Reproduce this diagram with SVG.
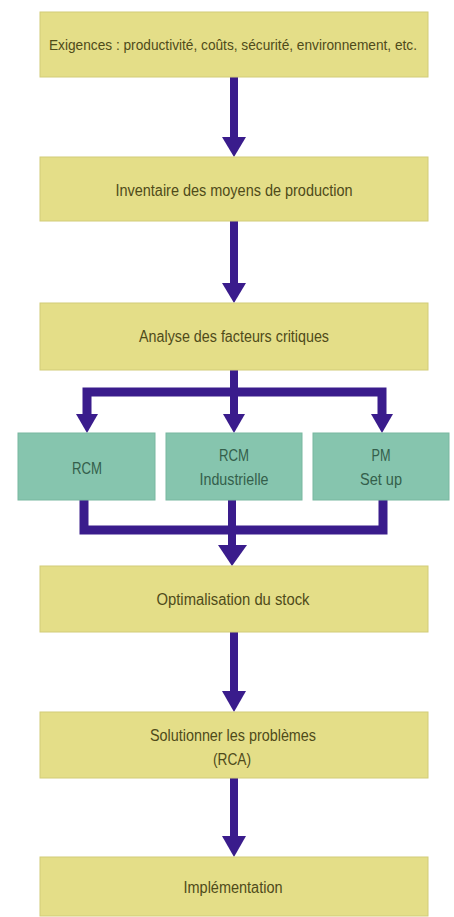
<svg xmlns="http://www.w3.org/2000/svg" width="454" height="917" viewBox="0 0 454 917">
  <defs>
    <style>
      .step { fill: #e4de88; stroke: #d2cc78; stroke-width: 1; }
      .method { fill: #86c5ae; stroke: #78b7a0; stroke-width: 1; }
      .lbl { font-family: "Liberation Sans", Arial, sans-serif; font-size: 16px; text-anchor: middle; }
      .long { font-size: 14px; }
      .step-t { fill: #4f4b1a; }
      .method-t { fill: #345f4b; }
      .flow { fill: none; stroke: #3a1c8c; stroke-width: 8; stroke-linecap: butt; stroke-linejoin: miter; }
      .bar { fill: none; stroke: #3a1c8c; stroke-width: 9; stroke-linejoin: miter; }
      .tip { fill: #3a1c8c; }
    </style>
  </defs>

  <rect width="454" height="917" fill="#ffffff"/>

  <!-- connectors -->
  <g id="connectors">
    <line class="flow" x1="234" y1="77" x2="234" y2="138"/>
    <path class="tip" d="M222,137 L246,137 L234,157 Z"/>

    <line class="flow" x1="234" y1="221" x2="234" y2="284"/>
    <path class="tip" d="M222,283 L246,283 L234,303 Z"/>

    <!-- fan-out to the three methods -->
    <line class="flow" x1="234" y1="370" x2="234" y2="392"/>
    <path class="bar" d="M87,415 V392 H382 V415"/>
    <line class="flow" x1="234" y1="392" x2="234" y2="415"/>
    <path class="tip" d="M76,414 L98,414 L87,433 Z"/>
    <path class="tip" d="M223,414 L245,414 L234,433 Z"/>
    <path class="tip" d="M371,414 L393,414 L382,433 Z"/>

    <!-- merge back into stock optimisation -->
    <path class="bar" d="M84,500 V530 H383 V500"/>
    <line class="flow" x1="232" y1="500" x2="232" y2="546"/>
    <path class="tip" d="M218,545 L247,545 L232,566 Z"/>

    <line class="flow" x1="234" y1="632" x2="234" y2="692"/>
    <path class="tip" d="M222,691 L246,691 L234,712 Z"/>

    <line class="flow" x1="234" y1="778" x2="234" y2="837"/>
    <path class="tip" d="M222,836 L246,836 L234,857 Z"/>
  </g>

  <g id="exigences">
    <rect class="step" x="40" y="12" width="388" height="65"/>
    <text class="lbl long step-t" x="233" y="50" textLength="368" lengthAdjust="spacingAndGlyphs">Exigences : productivité, coûts, sécurité, environnement, etc.</text>
  </g>

  <g id="inventaire">
    <rect class="step" x="40" y="157" width="388" height="64"/>
    <text class="lbl step-t" x="234" y="196" textLength="237" lengthAdjust="spacingAndGlyphs">Inventaire des moyens de production</text>
  </g>

  <g id="analyse">
    <rect class="step" x="40" y="303" width="388" height="67"/>
    <text class="lbl step-t" x="234" y="342" textLength="190" lengthAdjust="spacingAndGlyphs">Analyse des facteurs critiques</text>
  </g>

  <g id="rcm">
    <rect class="method" x="18" y="433" width="137" height="67"/>
    <text class="lbl method-t" x="87" y="474" textLength="30" lengthAdjust="spacingAndGlyphs">RCM</text>
  </g>

  <g id="rcm-industrielle">
    <rect class="method" x="166" y="433" width="136" height="67"/>
    <text class="lbl method-t" x="234" y="461" textLength="30" lengthAdjust="spacingAndGlyphs">RCM</text>
    <text class="lbl method-t" x="234" y="485" textLength="69" lengthAdjust="spacingAndGlyphs">Industrielle</text>
  </g>

  <g id="pm-setup">
    <rect class="method" x="313" y="433" width="136" height="67"/>
    <text class="lbl method-t" x="381" y="461" textLength="19" lengthAdjust="spacingAndGlyphs">PM</text>
    <text class="lbl method-t" x="381" y="485" textLength="42" lengthAdjust="spacingAndGlyphs">Set up</text>
  </g>

  <g id="optimalisation">
    <rect class="step" x="40" y="566" width="388" height="66"/>
    <text class="lbl step-t" x="233" y="605" textLength="153" lengthAdjust="spacingAndGlyphs">Optimalisation du stock</text>
  </g>

  <g id="solutionner">
    <rect class="step" x="40" y="712" width="388" height="66"/>
    <text class="lbl step-t" x="233" y="741" textLength="166" lengthAdjust="spacingAndGlyphs">Solutionner les problèmes</text>
    <text class="lbl step-t" x="232" y="765" textLength="38" lengthAdjust="spacingAndGlyphs">(RCA)</text>
  </g>

  <g id="implementation">
    <rect class="step" x="40" y="857" width="388" height="59"/>
    <text class="lbl step-t" x="233" y="893" textLength="99" lengthAdjust="spacingAndGlyphs">Implémentation</text>
  </g>
</svg>
